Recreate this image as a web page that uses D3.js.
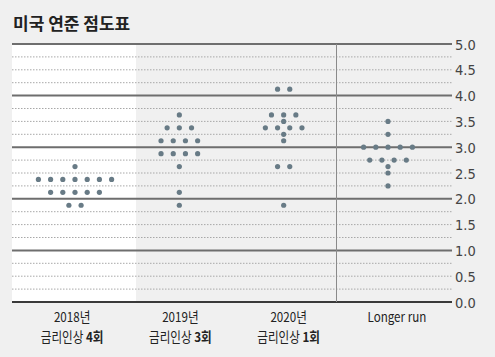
<!DOCTYPE html>
<html><head><meta charset="utf-8">
<script src="https://cdn.jsdelivr.net/npm/d3@7"></script>
<style>
html,body{margin:0;padding:0;background:#f0f0f0;}
svg{display:block;}
</style></head>
<body>
<script>
const title = "미국 연준 점도표";
const categories = ["2018년", "2019년", "2020년", "Longer run"];
const subLabels = ["금리인상 ", "금리인상 ", "금리인상 ", ""];
const subBold = ["4회", "3회", "1회", ""];
const yTicks = [0, 0.5, 1, 1.5, 2, 2.5, 3, 3.5, 4, 4.5, 5];

const rates2018 = [2.625, 2.375, 2.125, 1.875];
const counts2018 = [1, 7, 5, 2];
const rates2019 = [3.625, 3.375, 3.125, 2.875, 2.625, 2.125, 1.875];
const counts2019 = [1, 3, 4, 4, 1, 1, 1];
const rates2020 = [4.125, 3.625, 3.5, 3.375, 3.25, 3.125, 2.625, 1.875];
const counts2020 = [2, 3, 1, 4, 1, 1, 2, 1];
const ratesLonger = [3.5, 3.25, 3.0, 2.75, 2.625, 2.5, 2.25];
const countsLonger = [1, 1, 5, 4, 1, 1, 1];

const W = 495, H = 357;
const pLeft = 12, pRight = 452, pTop = 44, pBottom = 302;
const svg = d3.select("body").append("svg").attr("width", W).attr("height", H);

const y = d3.scaleLinear().domain([0, 5]).range([pBottom, pTop]);
const xDots = d3.scalePoint().domain(categories).range([75, 388]);
const xLab = d3.scaleBand().domain(categories).range([18, 451]);

// 2018 panel white
svg.append("rect").attr("x", pLeft).attr("y", pTop).attr("width", 124).attr("height", pBottom - pTop).attr("fill", "#ffffff");

// grid
const minor = d3.range(0, 5.001, 0.25).filter(v => Math.abs(v - Math.round(v)) > 1e-9);
svg.append("g").selectAll("line").data(minor).join("line")
  .attr("x1", pLeft).attr("x2", pRight)
  .attr("y1", d => y(d)).attr("y2", d => y(d))
  .attr("stroke", "#a8a8a8").attr("stroke-width", 1).attr("stroke-dasharray", "1.5,1.5");
const major = [1, 2, 3, 4, 5];
svg.append("g").selectAll("line").data(major).join("line")
  .attr("x1", pLeft).attr("x2", pRight)
  .attr("y1", d => y(d)).attr("y2", d => y(d))
  .attr("stroke", "#6e6e6e").attr("stroke-width", 2);
svg.append("line").attr("x1", pLeft).attr("x2", pRight).attr("y1", y(0)).attr("y2", y(0))
  .attr("stroke", "#3a3a3a").attr("stroke-width", 2);

// vertical separator
svg.append("line").attr("x1", 336.5).attr("x2", 336.5).attr("y1", pTop).attr("y2", pBottom)
  .attr("stroke", "#8a8a8a").attr("stroke-width", 1);

// y tick labels
svg.append("g").selectAll("text").data(yTicks).join("text")
  .attr("x", 455).attr("y", d => y(d) + 5.5)
  .attr("font-family", "'Liberation Sans Narrow','DejaVu Sans Condensed',sans-serif")
  .attr("font-size", 14.5).attr("fill", "#444")
  .text(d => d.toFixed(1));

// dots
const series = [
  [rates2018, counts2018], [rates2019, counts2019], [rates2020, counts2020], [ratesLonger, countsLonger]
];
const dots = [];
series.forEach(([rates, counts], i) => {
  rates.forEach((r, j) => {
    const n = counts[j];
    for (let k = 0; k < n; k++) dots.push({cat: categories[i], rate: r, off: k - (n - 1) / 2});
  });
});
const step = 12.2;
svg.append("g").selectAll("circle").data(dots).join("circle")
  .attr("cx", d => xDots(d.cat) + d.off * step)
  .attr("cy", d => y(d.rate))
  .attr("r", 2.6)
  .attr("fill", "#687b86");

// category labels
const lab = svg.append("g");
const labFont = "'Noto Sans CJK KR','Noto Sans',sans-serif";
categories.forEach((c, i) => {
  const cx = xLab(c) + xLab.bandwidth() / 2;
  lab.append("text")
    .attr("transform", `translate(${cx},321.5) scale(0.86,1)`)
    .attr("text-anchor", "middle")
    .attr("font-family", labFont)
    .attr("font-size", 13.5).attr("fill", "#222")
    .text(c);
  if (subLabels[i] || subBold[i]) {
    const t = lab.append("text")
      .attr("transform", `translate(${cx},341.5) scale(0.86,1)`)
      .attr("text-anchor", "middle")
      .attr("font-family", labFont)
      .attr("font-size", 13.5).attr("fill", "#222");
    t.append("tspan").text(subLabels[i]);
    t.append("tspan").attr("font-weight", "bold").text(subBold[i]);
  }
});

// title
svg.append("text").attr("x", 13).attr("y", 30)
  .attr("font-family", "'Noto Sans CJK KR',sans-serif")
  .attr("font-weight", "bold").attr("font-size", 17).attr("fill", "#222")
  .text(title);
</script>
</body></html>
